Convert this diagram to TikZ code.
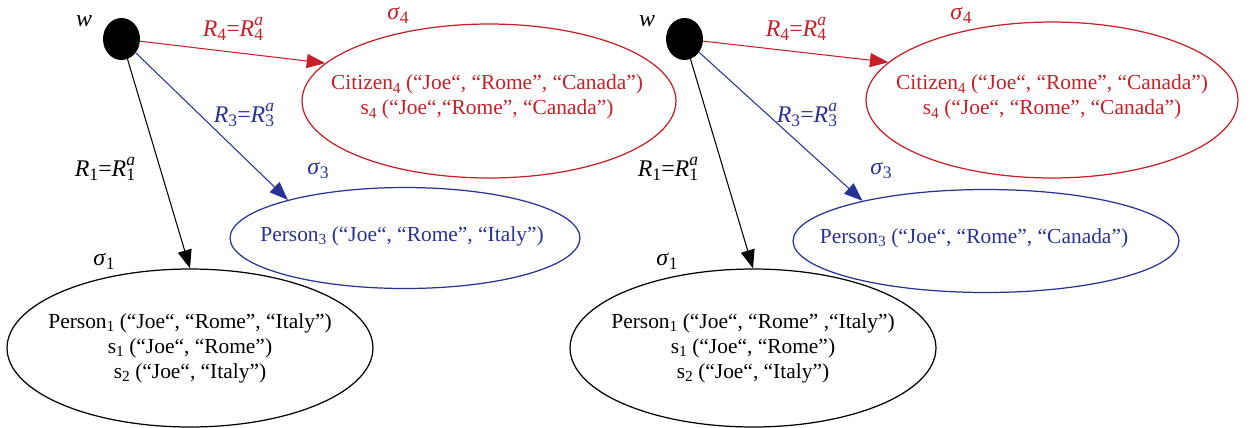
\documentclass[tikz,border=0pt]{standalone}
\usepackage{fontspec}
\setmainfont{Liberation Serif}
\usepackage{tikz}
\usetikzlibrary{arrows.meta,shapes.geometric}
\definecolor{cred}{RGB}{200,30,40}
\definecolor{cblue}{RGB}{40,50,150}
\newcommand{\lo}[1]{\raisebox{-0.35ex}{\fontsize{8.8}{8.8}\selectfont #1}}
\newcommand{\lb}[1]{\raisebox{-0.35ex}{\fontsize{10}{10}\selectfont #1}}
\newcommand{\rel}[1]{\textit{R}\lb{#1}=\textit{R}\rlap{\lb{#1}}\raisebox{1.05ex}{\fontsize{10}{10}\selectfont\itshape a}}
\newcommand{\sg}[1]{\textit{σ}\lb{#1}}

\begin{document}
\begin{tikzpicture}[x=0.02cm,y=-0.02cm,
  font=\fontsize{12.2}{14.2}\selectfont,
  st/.style={ellipse,draw,line width=0.7pt,inner sep=0pt,minimum width=7.32cm,minimum height=3.16cm},
  txt/.style={align=center,inner sep=0pt},
  lab/.style={inner sep=0pt,font=\fontsize{13.6}{14}\selectfont},
  dot/.style={ellipse,fill=black,inner sep=0pt,minimum width=0.74cm,minimum height=0.84cm},
  ar/.style={line width=0.6pt,-{Triangle[length=10.5pt,width=8pt]}}]
  \useasboundingbox (0,0) rectangle (1252,427);
  % left model
  \node[st,cred,minimum width=7.48cm,minimum height=3.08cm] (s4a) at (489,101) {};
  \node[txt,cred] (t4a) at (487,97)
    {Citizen\lo{4} (“Joe“, “Rome”, “Canada”)\\ s\lo{4} (“Joe“,“Rome”, “Canada”)};
  \node[st,cblue,minimum width=7cm,minimum height=2.02cm] (s3a) at (405,238) {};
  \node[txt,cblue] (t3a) at (402,236) {Person\lo{3} (“Joe“, “Rome”, “Italy”)};
  \node[st] (s1a) at (190,348) {};
  \node[txt] (t1a) at (190,348)
    {Person\lo{1} (“Joe“, “Rome”, “Italy”)\\ s\lo{1} (“Joe“, “Rome”)\\ s\lo{2} (“Joe“, “Italy”)};
  % right model
  \node[st,cred,minimum width=7.44cm,minimum height=3.12cm] (s4b) at (1052,100) {};
  \node[txt,cred] (t4b) at (1052,97)
    {Citizen\lo{4} (“Joe“, “Rome”, “Canada”)\\ s\lo{4} (“Joe“, “Rome”, “Canada”)};
  \node[st,cblue,minimum width=7.72cm,minimum height=2.06cm] (s3b) at (986,241) {};
  \node[txt,cblue] (t3b) at (974,238) {Person\lo{3} (“Joe“, “Rome”, “Canada”)};
  \node[st] (s1b) at (753,348) {};
  \node[txt] (t1b) at (753,348)
    {Person\lo{1} (“Joe“, “Rome” ,“Italy”)\\ s\lo{1} (“Joe“, “Rome”)\\ s\lo{2} (“Joe“, “Italy”)};
  % worlds, labels and relations
  \foreach \p/\dx in {a/0,b/563} {
    \node[dot] (w\p) at (121.5+\dx,39) {};
    \node[lab] (lw\p) at (84+\dx,21) {\textit{w}};
    \node[lab,cred] (l4\p) at (398+\dx,15) {\sg{4}};
    \node[lab,cblue] (l3\p) at (318+\dx,170) {\sg{3}};
    \node[lab] (l1\p) at (104+\dx,261) {\sg{1}};
    \node[lab,cred] (r4\p) at (233+\dx,29) {\rel{4}};
    \node[lab,cblue] (r3\p) at (244+\dx,115) {\rel{3}};
    \node[lab] (r1\p) at (105+\dx,169) {\rel{1}};
    \draw[ar,cred] (w\p) -- (s4\p.167);
    \draw[ar,cblue] (w\p) -- (s3\p.162);
    \draw[ar] (w\p) -- (s1\p.north);
  }
\end{tikzpicture}
\end{document}
